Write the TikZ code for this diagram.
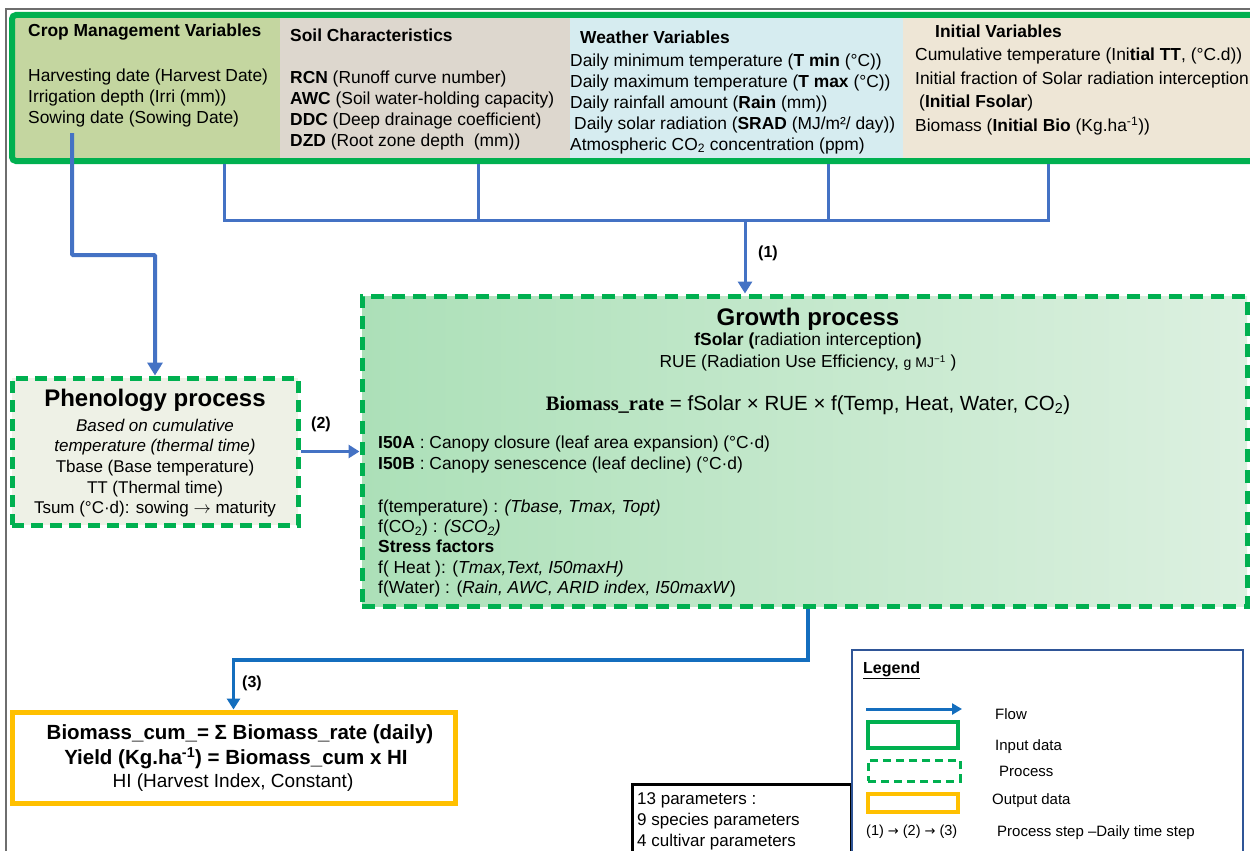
\documentclass[tikz,border=0pt]{standalone}
\usepackage{fontspec}
\setmainfont{Liberation Sans}
\newfontfamily\serifb{Liberation Serif}
\newfontfamily\djv{DejaVu Sans}
\usetikzlibrary{arrows.meta}
\definecolor{ggreen}{RGB}{0,176,80}
\definecolor{lblue}{RGB}{68,114,196}
\definecolor{fblue}{RGB}{20,110,190}
\definecolor{gold}{RGB}{255,192,0}
\definecolor{cropc}{RGB}{196,214,160}
\definecolor{soilc}{RGB}{221,215,206}
\definecolor{weathc}{RGB}{214,236,240}
\definecolor{initc}{RGB}{238,230,214}
\definecolor{phenc}{RGB}{238,241,230}
\definecolor{growA}{RGB}{172,224,184}
\definecolor{growB}{RGB}{220,240,224}
\definecolor{legc}{RGB}{47,85,151}
\definecolor{framegray}{RGB}{110,110,110}
\tikzset{
  panel/.style={draw=none, inner sep=0pt},
  inputbox/.style={draw=ggreen, line width=6pt, rounded corners=4pt, inner sep=0pt},
  procbox/.style={draw=ggreen, line width=5pt, dash pattern=on 13pt off 8pt, inner sep=0pt},
  outbox/.style={draw=gold, line width=5pt, inner sep=0pt},
  hdr/.style={inner sep=0pt, font=\fontsize{17.4}{21}\selectfont\bfseries},
  body/.style={inner sep=0pt, align=left, font=\fontsize{17.4}{21}\selectfont},
  bracket/.style={draw=lblue, line width=3pt},
  flowarr/.style={draw=lblue, line width=4pt, -{Triangle[length=13pt,width=15pt]}},
  flowarrB/.style={draw=fblue, line width=3.5pt, -{Triangle[length=11pt,width=13pt]}},
  steplabel/.style={inner sep=0pt, font=\fontsize{16}{16}\selectfont\bfseries},
  legtxt/.style={inner sep=0pt, font=\fontsize{15}{15}\selectfont},
}
\begin{document}
\begin{tikzpicture}[x=1pt,y=-1pt]
\useasboundingbox (0,0) rectangle (1250,851);
\clip (0,0) rectangle (1250,851);
\fill[white] (0,0) rectangle (1250,851);
\draw[framegray, line width=1.5pt] (6,851) -- (6,9) -- (1250,9);

% ---------- top input panels ----------
\node[panel, fill=cropc, minimum width=265pt, minimum height=142pt] (crop) at (147.5,87) {};
\node[panel, fill=soilc, minimum width=290pt, minimum height=142pt] (soil) at (425,87) {};
\node[panel, fill=weathc, minimum width=333pt, minimum height=142pt] (weather) at (736.5,87) {};
\node[panel, fill=initc, minimum width=352pt, minimum height=142pt] (init) at (1079,87) {};
\node[inputbox, minimum width=1250pt, minimum height=146pt] (top) at (637,88) {};

\node[hdr, anchor=west] (cropT) at (28,32) {Crop Management Variables};
\node[body, anchor=north west] (cropB) at (28,68.5) {Harvesting date (Harvest Date)\\Irrigation depth (Irri (mm))\\Sowing date (Sowing Date)};

\node[hdr, anchor=west] (soilT) at (290,35) {Soil Characteristics};
\node[body, anchor=north west] (soilB) at (290,70.5) {\textbf{RCN} (Runoff curve number)\\\textbf{AWC} (Soil water-holding capacity)\\\textbf{DDC} (Deep drainage coefficient)\\\textbf{DZD} (Root zone depth\ \ (mm))};

\node[hdr, anchor=west] (weathT) at (580,37) {Weather Variables};
\node[body, anchor=north west] (weathB) at (570,53.5) {Daily minimum temperature (\textbf{T min} (°C))\\Daily maximum temperature (\textbf{T max} (°C))\\Daily rainfall amount (\textbf{Rain} (mm))\\\hspace*{4pt}Daily solar radiation (\textbf{SRAD} (MJ/m²/ day))\\Atmospheric CO\textsubscript{2} concentration (ppm)};

\node[hdr, anchor=west] (initT) at (935,31) {Initial Variables};
\node[inner sep=0pt, align=left, font=\fontsize{17.4}{23.7}\selectfont, anchor=north west] (initB) at (915,47.5) {Cumulative temperature (Ini\textbf{tial TT}, (°C.d))\\Initial fraction of Solar radiation interception\\\hspace*{4pt}(\textbf{Initial Fsolar})\\Biomass (\textbf{Initial Bio} (Kg.ha\textsuperscript{-1}))};

% ---------- process boxes ----------
\node[procbox, left color=growA, right color=growB, minimum width=885pt, minimum height=310pt] (growth) at (804.5,451) {};
\node[procbox, fill=phenc, dash pattern=on 12pt off 7pt, minimum width=286pt, minimum height=147pt] (phen) at (155,451.5) {};
\node[outbox, fill=white, minimum width=443pt, minimum height=91pt] (out) at (233.5,757.5) {};

% phenology text
\node[inner sep=0pt, font=\fontsize{24}{24}\selectfont\bfseries] (phenT) at (155,400) {Phenology process};
\node[inner sep=0pt, align=center, font=\fontsize{17}{20.7}\selectfont, anchor=north] (phenB) at (155,418.5) {\textit{Based on cumulative}\\\textit{temperature (thermal time)}\\Tbase (Base temperature)\\TT (Thermal time)\\Tsum (°C·d): sowing $\rightarrow$ maturity};

% growth text
\node[inner sep=0pt, font=\fontsize{24}{24}\selectfont\bfseries] (growT) at (808,319) {Growth process};
\node[inner sep=0pt, font=\fontsize{17.4}{21}\selectfont] (growS) at (808,341) {\textbf{fSolar (}radiation interception\textbf{)}};
\node[inner sep=0pt, font=\fontsize{17.4}{21}\selectfont] (growR) at (808,363) {RUE (Radiation Use Efficiency, {\fontsize{14}{14}\selectfont g MJ\textsuperscript{−1}} )};
\node[inner sep=0pt, font=\fontsize{20.5}{22}\selectfont] (growE) at (808,405) {{\serifb\bfseries Biomass\_rate} = fSolar × RUE × f(Temp, Heat, Water, CO\textsubscript{2})};
\node[body, anchor=north west] (growI) at (378,435.5) {\textbf{I50A} : Canopy closure (leaf area expansion) (°C·d)\\\textbf{I50B} : Canopy senescence (leaf decline) (°C·d)};
\node[inner sep=0pt, align=left, font=\fontsize{17.4}{20.3}\selectfont, anchor=north west] (growF) at (378,499.5) {f(temperature) : \textit{(Tbase, Tmax, Topt)}\\f(CO\textsubscript{2}) : \textit{(SCO\textsubscript{2})}\\\textbf{Stress factors}\\f( Heat ): (\textit{Tmax,Text, I50maxH)}\\f(Water) : (\textit{Rain, AWC, ARID index, I50maxW})};

% output text
\node[inner sep=0pt, font=\fontsize{20.5}{22}\selectfont\bfseries] (outA) at (240,734) {Biomass\_cum\_= Σ Biomass\_rate (daily)};
\node[inner sep=0pt, font=\fontsize{20.5}{22}\selectfont\bfseries] (outB) at (236,758) {Yield (Kg.ha\textsuperscript{-1}) = Biomass\_cum x HI};
\node[inner sep=0pt, font=\fontsize{19}{22}\selectfont] (outC) at (233,783) {HI (Harvest Index, Constant)};

% ---------- connectors ----------
\coordinate (b1) at (224,220);
\coordinate (b2) at (478,220);
\coordinate (b3) at (828,220);
\coordinate (b4) at (1048,220);
\coordinate (bm) at (745,220);
\draw[bracket] (top.south -| b1) -- (b1);
\draw[bracket] (top.south -| b2) -- (b2);
\draw[bracket] (top.south -| b3) -- (b3);
\draw[bracket] (top.south -| b4) -- (b4);
\draw[bracket, line cap=rect] (b1) -- (b4);
\draw[bracket, -{Triangle[length=12pt,width=14pt]}] (bm) -- (bm |- growth.north);
\node[steplabel] (l1) at (768,253) {(1)};

\coordinate (cstart) at (72,133);
\coordinate (cbend) at (72,255);
\draw[flowarr, rounded corners=1pt] (cstart) -- (cbend) -| (phen.north);

\draw[flowarr, line width=3.5pt, -{Triangle[length=11pt,width=13pt]}] (phen.east) -- (phen.east -| growth.west);
\node[steplabel] (l2) at (321,424) {(2)};

\coordinate (g3) at (808,606);
\coordinate (g3b) at (808,660);
\draw[flowarrB] (growth.south -| g3) -- (g3b) -| (out.north);
\node[steplabel] (l3) at (252,683) {(3)};

% ---------- parameters box ----------
\node[draw=black, line width=3pt, fill=white, inner sep=0pt, minimum width=219pt, minimum height=96pt] (params) at (741.5,832) {};
\node[inner sep=0pt, align=left, font=\fontsize{17}{21}\selectfont, anchor=north west] (paramsT) at (637,792.5) {13 parameters :\\9 species parameters\\4 cultivar parameters};

% ---------- legend ----------
\node[draw=legc, line width=2pt, fill=white, inner sep=0pt, minimum width=391pt, minimum height=220pt] (legend) at (1047.5,760) {};
\node[inner sep=0pt, font=\fontsize{16}{16}\selectfont\bfseries, anchor=west] (legT) at (863,670) {\underline{Legend}};
\coordinate (lf1) at (866,709);
\coordinate (lf2) at (962,709);
\draw[draw=fblue, line width=3pt, -{Triangle[length=10pt,width=11pt]}] (lf1) -- (lf2);
\node[legtxt, anchor=west] (legF) at (995,714) {Flow};
\node[draw=ggreen, line width=3.5pt, inner sep=0pt, minimum width=90pt, minimum height=26pt] (legIn) at (913,735) {};
\node[legtxt, anchor=west] (legInT) at (995,747) {Input data};
\node[draw=ggreen, line width=3pt, dash pattern=on 8pt off 5pt, inner sep=0pt, minimum width=92pt, minimum height=21pt] (legPr) at (914,770.5) {};
\node[legtxt, anchor=west] (legPrT) at (999,771) {Process};
\node[draw=gold, line width=3.5pt, inner sep=0pt, minimum width=90pt, minimum height=18pt] (legOut) at (913,803) {};
\node[legtxt, anchor=west] (legOutT) at (992,801) {Output data};
\node[inner sep=0pt, font=\fontsize{14.5}{15}\selectfont, anchor=west] (legSteps) at (866,832) {(1) {\djv\fontsize{13}{13}\selectfont →} (2) {\djv\fontsize{13}{13}\selectfont →} (3)};
\node[legtxt, anchor=west] (legStepsT) at (997,833) {Process step –Daily time step};
\end{tikzpicture}
\end{document}
